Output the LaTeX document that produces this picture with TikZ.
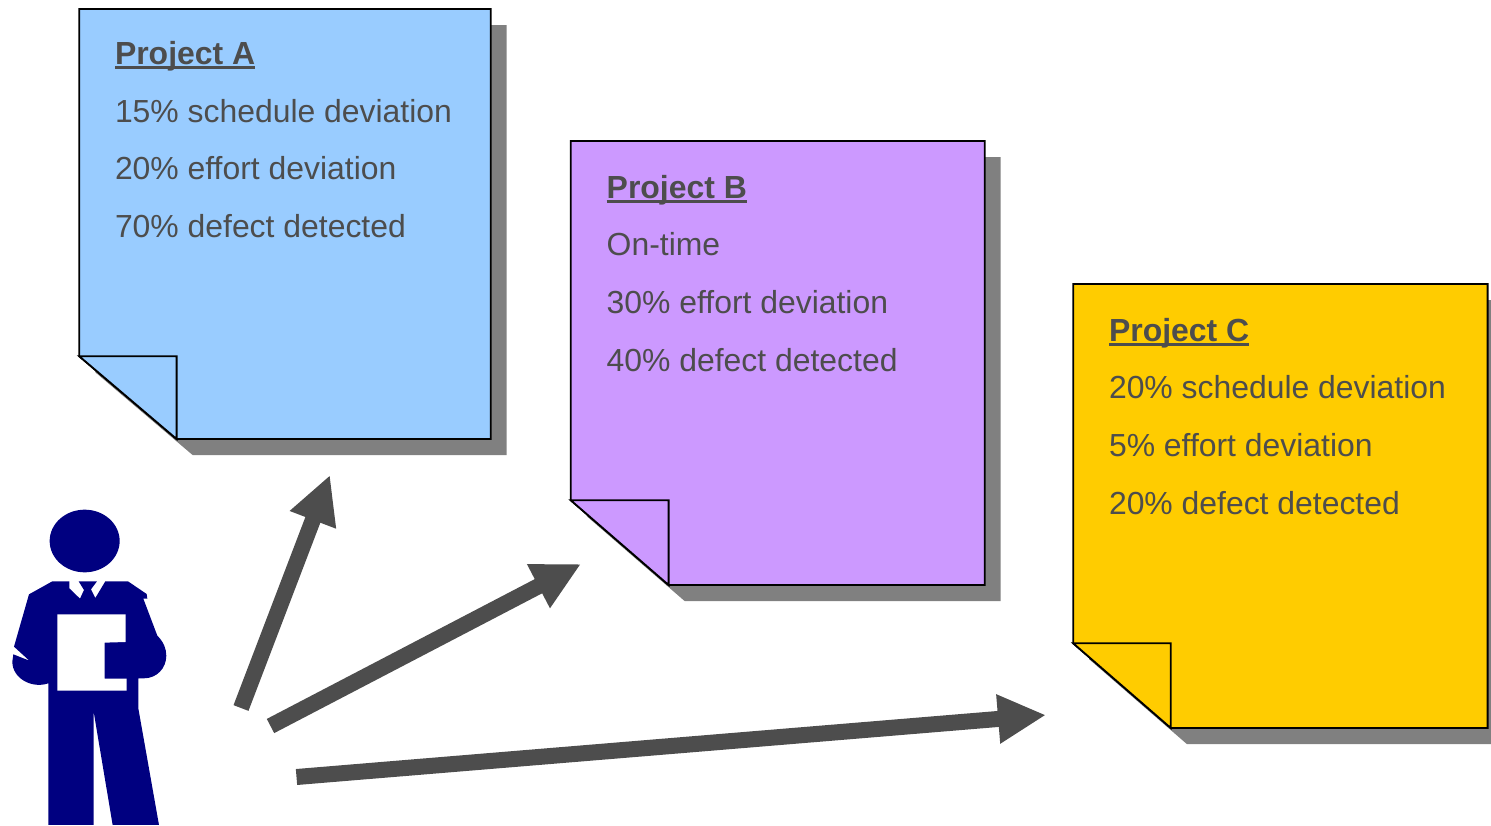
\documentclass[tikz,border=0pt]{standalone}
\usepackage{fontspec}
\setmainfont{Liberation Sans}
\usetikzlibrary{arrows.meta}
\definecolor{txt}{HTML}{4D4D4D}
\definecolor{shadowgray}{HTML}{808080}
\definecolor{noteA}{HTML}{99CCFF}
\definecolor{noteB}{HTML}{CC99FF}
\definecolor{noteC}{HTML}{FFCC00}
\definecolor{navyman}{HTML}{000080}
\newcommand{\titleline}[1]{\sbox0{#1}\usebox0\llap{\rule[-4.6pt]{\wd0}{2.4pt}}}
\tikzset{
  x=1pt,y=-1pt,
  notetext/.style={anchor=base west,inner sep=0pt,outer sep=0pt,text=txt,font=\fontsize{31.9}{32}\selectfont},
  notetitle/.style={notetext,font=\fontsize{31.95}{32}\selectfont\bfseries},
  noteedge/.style={draw=black,line width=1.8pt,line join=miter},
  bigarrow/.style={draw=txt,line width=16pt,-{Triangle[length=48pt,width=46pt]}},
  man/.style={fill=navyman,draw=none},
}
% #1 left, #2 top, #3 right, #4 bottom, #5 fold x, #6 fold y, #7 colour
\newcommand{\paper}[7]{%
  \fill[shadowgray] (#1+16,#2+16) -- (#3+16,#2+16) -- (#3+16,#4+16) -- (#5+16,#4+16) -- (#1+16,#6+16) -- cycle;
  \path[noteedge,fill=#7] (#1,#2) -- (#3,#2) -- (#3,#4) -- (#5,#4) -- (#1,#6) -- cycle;
  \path[noteedge,fill=#7] (#1,#6) -- (#5,#6) -- (#5,#4) -- cycle;
}
\begin{document}
\begin{tikzpicture}
\useasboundingbox (0,0) rectangle (1491,825);
\begin{scope}
\clip (0,0) rectangle (1491,825);
\paper{79.3}{9}{490.7}{439}{176.6}{356.3}{noteA}
\paper{570.8}{141}{984.7}{585}{668.6}{500.3}{noteB}
\paper{1073.2}{284}{1487.6}{728}{1170.8}{643.3}{noteC}
\end{scope}

\node[notetitle] (a0) at (115,64) {\titleline{Project A}};
\node[notetext] (a1) at (115,122) {15\% schedule deviation};
\node[notetext] (a2) at (115,179) {20\% effort deviation};
\node[notetext] (a3) at (115,237) {70\% defect detected};

\node[notetitle] (b0) at (606.7,198) {\titleline{Project B}};
\node[notetext] (b1) at (606.7,255) {On-time};
\node[notetext] (b2) at (606.7,313) {30\% effort deviation};
\node[notetext] (b3) at (606.7,371) {40\% defect detected};

\node[notetitle] (c0) at (1109,341) {\titleline{Project C}};
\node[notetext] (c1) at (1109,398) {20\% schedule deviation};
\node[notetext] (c2) at (1109,456) {5\% effort deviation};
\node[notetext] (c3) at (1109,514) {20\% defect detected};

% person
\begin{scope}[shift={(0,495)},x=0.3333pt,y=-0.3333pt]
\fill[man] (254,138) ellipse [x radius=105,y radius=94];
\fill[man] (157,259) -- (208,259) -- (208,280) -- (240,311) -- (252,285) -- (236,259)
  -- (291,259) -- (273,283) -- (286,309) -- (316,259) -- (384,259) -- (440,297) -- (442,311)
  -- (430,311) -- (472,422) .. controls (490,440) and (499,460) .. (499,482)
  .. controls (499,520) and (470,550) .. (432,550) -- (415,550) -- (415,640) -- (477,990)
  -- (338,990) -- (281,650) -- (281,990) -- (145,990) -- (145,565)
  .. controls (95,582) and (37,550) .. (37,500) -- (40,478) -- (88,497) -- (42,455) -- (87,298) -- cycle;
\fill[white] (172,358) -- (377,358) -- (377,441) -- (314,443) -- (314,551) -- (380,551) -- (380,587) -- (172,587) -- cycle;
\end{scope}

\coordinate (s1) at (241,708);
\coordinate (t1) at (330,475);
\coordinate (s2) at (270.5,726);
\coordinate (t2) at (581,564);
\coordinate (s3) at (296.5,777);
\coordinate (t3) at (1046,715);
\draw[bigarrow] (s1) -- (t1);
\draw[bigarrow] (s2) -- (t2);
\draw[bigarrow] (s3) -- (t3);
\end{tikzpicture}
\end{document}
